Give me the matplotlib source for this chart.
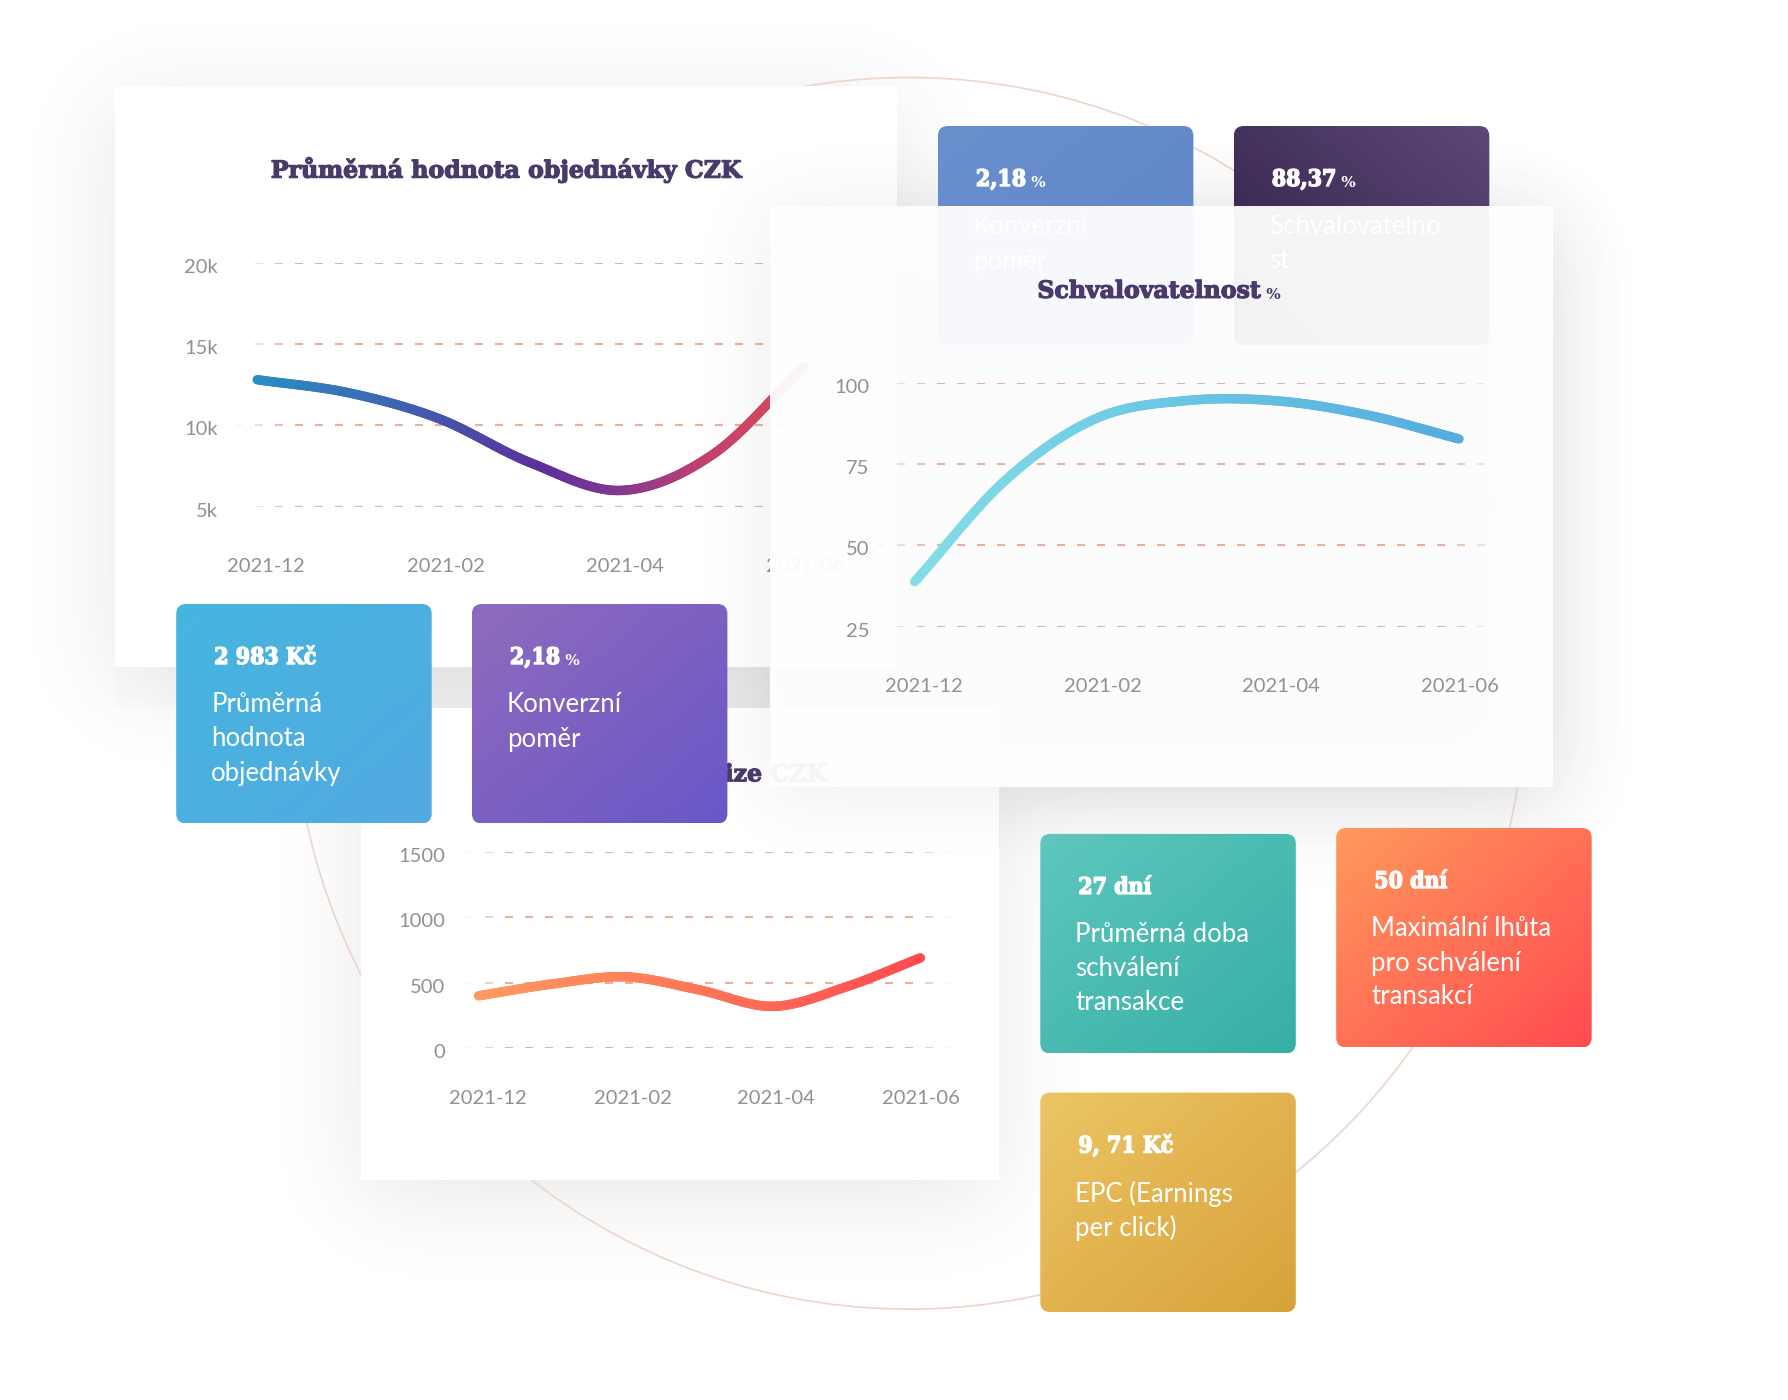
import numpy as np
import matplotlib
matplotlib.use("Agg")
import matplotlib.pyplot as plt
import matplotlib.transforms as mtransforms
import matplotlib.patheffects as pe
from matplotlib.patches import FancyBboxPatch, Rectangle, Circle
from matplotlib.collections import LineCollection
from matplotlib.colors import LinearSegmentedColormap, to_rgb

W, H, DPI = 1788, 1400, 100

# ---- data ----
month_idx = np.arange(7)          # one point per month, 2021-12 .. 2021-06
tick_idx = [0, 2, 4, 6]
tick_labels = ["2021-12", "2021-02", "2021-04", "2021-06"]

order_value = [12800, 12000, 10400, 7700, 6000, 8200, 13600]
approval_rate = [38.8, 70.0, 89.0, 94.5, 94.4, 90.0, 82.7]
commission = [400, 490, 545, 445, 320, 470, 690]

order_ticks = [5000, 10000, 15000, 20000]
order_tick_labels = ["5k", "10k", "15k", "20k"]
approval_ticks = [25, 50, 75, 100]
commission_ticks = [0, 500, 1000, 1500]

kpi_values = ["2 983 Kč", "2,18", "2,18", "88,37", "27 dní", "50 dní", "9, 71 Kč"]
kpi_units = ["", "%", "%", "%", "", "", ""]
kpi_labels = [
    ["Průměrná", "hodnota", "objednávky"],
    ["Konverzní", "poměr"],
    ["Konverzní", "poměr"],
    ["Schvalovatelno", "st"],
    ["Průměrná doba", "schválení", "transakce"],
    ["Maximální lhůta", "pro schválení", "transakcí"],
    ["EPC (Earnings", "per click)"],
]

# ---- layout (pixels of the output) ----
SERIF = ["DejaVu Serif"]
SANS = ["Lato", "DejaVu Sans"]
TITLE_C = "#4a3a6c"
TICK_C = "#909096"
GRID_C = "#e6b198"

CARD1 = (114.8, 86.2, 897.4, 667.4)
CARD2 = (770.0, 206.0, 1553.4, 787.0)
CARD3 = (361.4, 707.7, 998.5, 1180.0)
KW, KH = 255.5, 219.5
kpi_pos = [(176.2, 604), (471.9, 604), (937.9, 126), (1233.8, 126),
           (1040.3, 833.9), (1336.2, 828), (1040.3, 1092.6)]
kpi_cols = [("#45b6df", "#53aae1", "tlbr"), ("#8f6bbd", "#6957c7", "tlbr"),
            ("#6a8fcd", "#5e85c7", "tlbr"), ("#2e1e44", "#5c4879", "bltr"),
            ("#5fc7be", "#35afa5", "tlbr"), ("#ff995d", "#ff4b50", "tlbr"),
            ("#ecc564", "#d7a23a", "tlbr")]

fig = plt.figure(figsize=(W / DPI, H / DPI), dpi=DPI)


def layer(z):
    ax = fig.add_axes([0, 0, 1, 1], zorder=z)
    ax.set_xlim(0, W)
    ax.set_ylim(H, 0)
    ax.axis("off")
    ax.patch.set_visible(False)
    return ax


def off(dx, dy):
    return mtransforms.ScaledTranslation(dx / DPI, dy / DPI, fig.dpi_scale_trans)


def heavy(color, w=0.9):
    return [pe.withStroke(linewidth=w, foreground=color)]


def blur(a, sigma):
    r = int(3 * sigma)
    k = np.exp(-0.5 * (np.arange(-r, r + 1) / sigma) ** 2)
    k /= k.sum()
    a = np.apply_along_axis(lambda v: np.convolve(v, k, mode="same"), 0, a)
    a = np.apply_along_axis(lambda v: np.convolve(v, k, mode="same"), 1, a)
    return a


def shadow(ax, rects, sigma, amax, dy, z, step=4):
    ny, nx = H // step, W // step
    m = np.zeros((ny, nx))
    for x0, y0, x1, y1 in rects:
        m[int((y0 + dy) / step):int((y1 + dy) / step), int(x0 / step):int(x1 / step)] = 1
    m = blur(m, sigma / step)
    img = np.zeros((ny, nx, 4))
    img[..., :3] = 0.3
    img[..., 3] = amax * m
    ax.imshow(img, extent=(0, W, H, 0), origin="upper", interpolation="bilinear",
              aspect="auto", zorder=z)


def grad_card(ax, x0, y0, c_a, c_b, mode, z, w=KW, h=KH, r=10):
    patch = FancyBboxPatch((x0 + r, y0 + r), w - 2 * r, h - 2 * r,
                           boxstyle=f"round,pad={r}", fc="none", ec="none", zorder=z)
    ax.add_patch(patch)
    yy, xx = np.mgrid[0:1:64j, 0:1:64j]
    u = (xx + yy) / 2 if mode == "tlbr" else (xx + 1 - yy) / 2
    a, b = np.array(to_rgb(c_a)), np.array(to_rgb(c_b))
    img = a[None, None, :] * (1 - u[..., None]) + b[None, None, :] * u[..., None]
    im = ax.imshow(img, extent=(x0, x0 + w, y0 + h, y0), origin="upper",
                   interpolation="bilinear", aspect="auto", zorder=z)
    im.set_clip_path(patch)


def kpi(ax, i, z):
    x0, y0 = kpi_pos[i]
    c_a, c_b, mode = kpi_cols[i]
    grad_card(ax, x0, y0, c_a, c_b, mode, z)
    t = ax.text(x0 + 38, y0 + 54, kpi_values[i], family=SERIF, fontweight="bold",
                fontstretch="condensed", fontsize=16.5, color="white", ha="left",
                va="center", zorder=z + 1, path_effects=heavy("white", 1.0))
    if kpi_units[i]:
        ax.annotate(" " + kpi_units[i], xy=(1, 0.05), xycoords=t, family=SERIF,
                    fontweight="bold", fontsize=11, color="white",
                    ha="left", va="bottom", zorder=z + 1)
    for k, line in enumerate(kpi_labels[i]):
        ax.text(x0 + 35, y0 + 101 + 34 * k, line, family=SANS, fontsize=18.5,
                color="white", ha="left", va="center", zorder=z + 1)


def smooth(x, y, n=40):
    x = np.asarray(x, float)
    y = np.asarray(y, float)
    m = np.gradient(y, x)
    xs, ys = [], []
    for i in range(len(x) - 1):
        t = np.linspace(0, 1, n, endpoint=False)
        h = x[i + 1] - x[i]
        h00 = 2 * t**3 - 3 * t**2 + 1
        h10 = t**3 - 2 * t**2 + t
        h01 = -2 * t**3 + 3 * t**2
        h11 = t**3 - t**2
        ys.append(h00 * y[i] + h10 * h * m[i] + h01 * y[i + 1] + h11 * h * m[i + 1])
        xs.append(x[i] + t * h)
    xs.append([x[-1]])
    ys.append([y[-1]])
    return np.concatenate(xs), np.concatenate(ys)


def gradient_line(ax, x, y, stops, lw=6.8):
    xs, ys = smooth(x, y)
    pts = np.column_stack([xs, ys]).reshape(-1, 1, 2)
    segs = np.concatenate([pts[:-1], pts[1:]], axis=1)
    cmap = LinearSegmentedColormap.from_list("g", stops)
    t = (xs[:-1] - xs[0]) / (xs[-1] - xs[0])
    lc = LineCollection(segs, colors=cmap(t), linewidths=lw, capstyle="round",
                        joinstyle="round", clip_on=False, zorder=3)
    ax.add_collection(lc)


def chart(m0, step, xlim, ytop, ybot, ylim, z):
    x0 = m0 + xlim[0] * step
    x1 = m0 + xlim[1] * step
    ax = fig.add_axes([x0 / W, 1 - ybot / H, (x1 - x0) / W, (ybot - ytop) / H], zorder=z)
    ax.set_xlim(*xlim)
    ax.set_ylim(*ylim)
    ax.axis("off")
    ax.patch.set_visible(False)
    ax.step_px = step
    return ax


def dashed_grid(ax, yvals):
    x0, x1 = ax.get_xlim()
    per, dash = 20 / ax.step_px, 8 / ax.step_px
    starts = np.arange(x0, x1, per)
    segs, cols = [], []
    base = np.array(to_rgb(GRID_C))
    for yv in yvals:
        for s in starts:
            e = min(s + dash, x1)
            tm = ((s + e) / 2 - x0) / (x1 - x0)
            a = np.clip(min(tm, 1 - tm) / 0.09, 0.08, 1.0)
            segs.append([(s, yv), (e, yv)])
            cols.append((*base, a))
    ax.add_collection(LineCollection(segs, colors=cols, linewidths=1.5, zorder=1))


def ticks(ax, yt, ylabs, ypad, xdrop, xshift=(9, 7, 3, 1)):
    for v, lab in zip(yt, ylabs):
        ax.text(0, v, lab, transform=ax.get_yaxis_transform() + off(-ypad, -4.6),
                ha="right", va="center", family=SANS, fontsize=14.5, color=TICK_C)
    for i, lab, sh in zip(tick_idx, tick_labels, xshift):
        ax.text(i, 0, lab, transform=ax.get_xaxis_transform() + off(sh, -xdrop),
                ha="center", va="center", family=SANS, fontsize=14.5, color=TICK_C)


# ---- background layer ----
bg = layer(0)
shadow(bg, [CARD1, CARD2, CARD3], sigma=45, amax=0.13, dy=18, z=1)
bg.add_patch(Circle((908.8, 693.3), 615.8, fill=False, ec="#eed5c9", lw=1.2, zorder=2))
for c in (CARD3, CARD1):
    bg.add_patch(Rectangle((c[0], c[1]), c[2] - c[0], c[3] - c[1], fc="white", ec="none", zorder=3))
# card 1 drop shadow on the card below
band = np.ones((16, 64, 4))
band[..., :3] = 0.6
band[..., 3] = np.linspace(0.1, 0.075, 16)[:, None] * np.clip(np.linspace(0, 1, 64) / 0.12, 0.3, 1)[None, :]
bg.imshow(band, extent=(CARD1[0], CARD1[2], 707.7, 667.4), origin="upper",
          interpolation="bilinear", aspect="auto", zorder=4)
bg.text(506, 169.6, "Průměrná hodnota objednávky CZK", family=SERIF, fontweight="bold",
        fontsize=17, color=TITLE_C, ha="center", va="center", zorder=5,
        path_effects=heavy(TITLE_C))
bg.text(826.6, 773.2, "Průměrná provize CZK", family=SERIF, fontweight="bold",
        fontsize=17, color=TITLE_C, ha="right", va="center", zorder=5,
        path_effects=heavy(TITLE_C))

# ---- chart 1: average order value ----
ax1 = chart(257.2, 91.08, (-0.24, 6.45), 262.5, 506.7, (5000, 20000), 1)
dashed_grid(ax1, order_ticks)
gradient_line(ax1, month_idx, order_value,
              [(0, "#2a8dc5"), (0.26, "#3e64b0"), (0.52, "#5c2f9e"), (0.67, "#84388f"),
               (0.82, "#c1406f"), (1.0, "#e64a58")])
ticks(ax1, order_ticks, order_tick_labels, 17.3, 60.3)

# ---- chart 3: average commission ----
ax3 = chart(478.4, 73.67, (-0.18, 6.45), 851.8, 1048.2, (0, 1500), 1)
dashed_grid(ax3, commission_ticks)
gradient_line(ax3, month_idx, commission,
              [(0, "#ff9a60"), (0.5, "#ff7658"), (1.0, "#ff4b4f")])
ticks(ax3, commission_ticks, [str(v) for v in commission_ticks], 20.2, 50)

# ---- middle layer: KPI cards and the approval card ----
mid = layer(2)
shadow(mid, [CARD2], sigma=38, amax=0.10, dy=8, z=1)
for i in range(7):
    kpi(mid, i, 2)
mid.add_patch(Rectangle((CARD2[0], CARD2[1]), CARD2[2] - CARD2[0], CARD2[3] - CARD2[1],
                        fc="white", alpha=0.95, ec="none", zorder=5))
t2 = mid.text(1149, 290.8, "Schvalovatelnost", family=SERIF, fontweight="bold",
              fontsize=17, color=TITLE_C, ha="center", va="center", zorder=6,
              path_effects=heavy(TITLE_C))
mid.annotate(" %", xy=(1, 0.05), xycoords=t2, family=SERIF, fontweight="bold",
             fontsize=11, color=TITLE_C, ha="left", va="bottom", zorder=6)

# ---- chart 2: approval rate ----
ax2 = chart(914.7, 90.72, (-0.42, 6.44), 382.7, 626.5, (25, 100), 3)
dashed_grid(ax2, approval_ticks)
gradient_line(ax2, month_idx, approval_rate,
              [(0, "#84dde6"), (0.4, "#6ecbe4"), (1.0, "#54acdf")])
ticks(ax2, approval_ticks, [str(v) for v in approval_ticks], 7.3, 59.7)

fig.savefig("out.png", dpi=DPI, facecolor="white")
